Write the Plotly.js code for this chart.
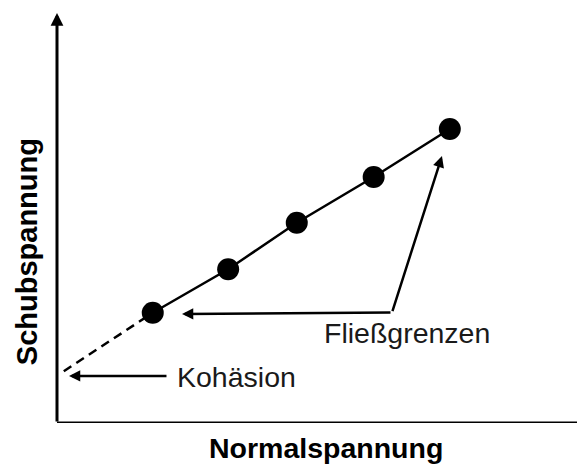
<!DOCTYPE html>
<html>
<head>
<meta charset="utf-8">
<script src="https://cdn.plot.ly/plotly-3.0.1.min.js"></script>
<style>html,body{margin:0;padding:0;background:#fff}#chart{width:577px;height:465px}</style>
</head>
<body>
<div id="chart"></div>
<script>
// Normalspannung / Schubspannung (schematic units)
const normalStress = [1.27, 2.27, 3.18, 4.20, 5.21];
const shearStress  = [1.47, 2.05, 2.67, 3.28, 3.92];
// dashed extrapolation to the cohesion intercept
const cohesionX = [0.09, 1.27];
const cohesionY = [0.69, 1.47];

const xTitle = "Normalspannung";
const yTitle = "Schubspannung";
const labelCohesion = "Kohäsion";
const labelYield = "Fließgrenzen";

const FONT = "Liberation Sans, Arial, Helvetica, sans-serif";

const traces = [
  {x: cohesionX, y: cohesionY, mode: "lines", line: {color: "#000", width: 2.5, dash: "9px,6px"}, hoverinfo: "skip", showlegend: false},
  {x: normalStress, y: shearStress, mode: "lines+markers", line: {color: "#000", width: 2.5},
   marker: {color: "#000", size: 22}, showlegend: false}
];

const arrow = (x, y, ax, ay, w, s) => ({
  x: x, y: y, ax: ax, ay: ay, xref: "x", yref: "y", axref: "x", ayref: "y",
  text: "", showarrow: true, arrowhead: 2, arrowsize: s, arrowwidth: w, arrowcolor: "#000", standoff: 0, startstandoff: 0
});

const layout = {
  width: 577, height: 465,
  margin: {l: 57, r: 0, t: 12, b: 42},
  paper_bgcolor: "#fff", plot_bgcolor: "#fff",
  xaxis: {range: [0, 6.897], showgrid: false, zeroline: false, showticklabels: false, ticks: "", showline: false, fixedrange: true},
  yaxis: {range: [0, 5.48], showgrid: false, zeroline: false, showticklabels: false, ticks: "", showline: false, fixedrange: true},
  shapes: [
    {type: "line", xref: "x", yref: "y", x0: 0, y0: 0, x1: 6.897, y1: 0, line: {color: "#000", width: 3}, layer: "above"}
  ],
  annotations: [
    arrow(0, 5.467, 0, 0, 3, 0.85),
    arrow(0.159, 0.627, 1.472, 0.627, 2.5, 0.9),
    arrow(1.658, 1.453, 4.443, 1.473, 2.5, 0.9),
    arrow(5.106, 3.56, 4.443, 1.473, 2.5, 0.9),
    {x: 1.565, y: 0.613, xref: "x", yref: "y", text: labelCohesion, showarrow: false, xanchor: "left", yanchor: "middle",
     font: {family: FONT, size: 28.5, color: "#1a1a1a"}},
    {x: 3.515, y: 1.2, xref: "x", yref: "y", text: labelYield, showarrow: false, xanchor: "left", yanchor: "middle",
     font: {family: FONT, size: 28.5, color: "#1a1a1a"}},
    {x: 0.517, y: -0.061, xref: "paper", yref: "paper", text: "<b>" + xTitle + "</b>", showarrow: false, xanchor: "center", yanchor: "middle",
     font: {family: FONT, size: 28.5, color: "#000"}},
    {x: -0.0577, y: 0.418, xref: "paper", yref: "paper", text: "<b>" + yTitle + "</b>", showarrow: false, xanchor: "center", yanchor: "middle", textangle: -90,
     font: {family: FONT, size: 29, color: "#000"}}
  ]
};

Plotly.newPlot("chart", traces, layout, {displayModeBar: false, staticPlot: true});
</script>
</body>
</html>
